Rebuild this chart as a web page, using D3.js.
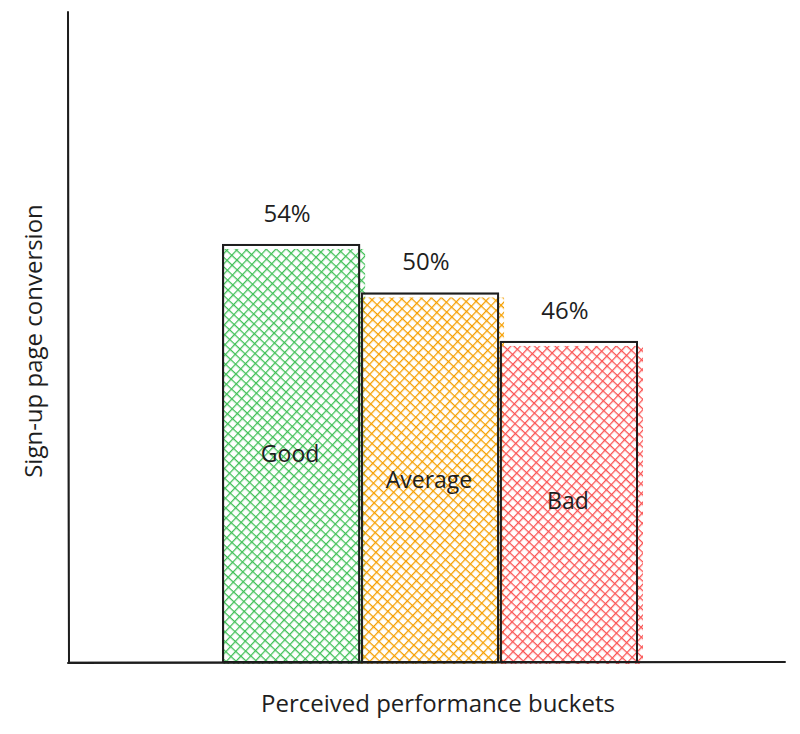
<!DOCTYPE html>
<html><head><meta charset="utf-8">
<script src="https://cdn.jsdelivr.net/npm/d3@7"></script>
<style>body{margin:0;background:#fff}</style>
</head><body>
<script>
const categories = ["Good", "Average", "Bad"];
const values = [54, 50, 46];
const valueLabels = ["54%", "50%", "46%"];
const colors = ["#40c057", "#f59f00", "#fa5252"];
const xTitle = "Perceived performance buckets";
const yTitle = "Sign-up page conversion";

const W = 800, H = 734;
const font = "'Comic Sans MS', 'Open Sans', 'DejaVu Sans', sans-serif";
const svg = d3.select("body").append("svg").attr("width", W).attr("height", H);

const x = d3.scaleBand().domain(categories).range([223, 637]).paddingInner(0.02);
const y = d3.scaleLinear().domain([19.6, 73.3]).range([662, 11]);

const defs = svg.append("defs");
colors.forEach((c, i) => {
  const s = 7;
  const p = defs.append("pattern").attr("id", "h" + i).attr("patternUnits", "userSpaceOnUse")
    .attr("width", s).attr("height", s).attr("patternTransform", "rotate(43)");
  p.append("line").attr("x1", 0).attr("y1", 0).attr("x2", 0).attr("y2", s)
    .attr("stroke", c).attr("stroke-width", 2);
  p.append("line").attr("x1", 0).attr("y1", 0).attr("x2", s).attr("y2", 0)
    .attr("stroke", c).attr("stroke-width", 2);
  p.append("line").attr("x1", 1.2).attr("y1", 0).attr("x2", 1.2).attr("y2", s)
    .attr("stroke", c).attr("stroke-width", 0.8).attr("opacity", 0.5);
  p.append("line").attr("x1", 0).attr("y1", 1.2).attr("x2", s).attr("y2", 1.2)
    .attr("stroke", c).attr("stroke-width", 0.8).attr("opacity", 0.5);
});

const g = svg.append("g");
g.selectAll("rect.fill").data(values).join("rect").attr("class", "fill")
  .attr("x", (d, i) => x(categories[i]) - 1)
  .attr("y", d => y(d) + 4)
  .attr("width", x.bandwidth() + 7)
  .attr("height", d => y.range()[0] - y(d) - 2)
  .attr("fill", (d, i) => "url(#h" + i + ")");
g.selectAll("rect.out").data(values).join("rect").attr("class", "out")
  .attr("x", (d, i) => x(categories[i]))
  .attr("y", d => y(d))
  .attr("width", x.bandwidth())
  .attr("height", d => y.range()[0] - y(d))
  .attr("fill", "none").attr("stroke", "#1e1e1e").attr("stroke-width", 2);
g.selectAll("rect.out2").data(values).join("rect").attr("class", "out2")
  .attr("x", (d, i) => x(categories[i]) + 0.8)
  .attr("y", d => y(d) + 0.6)
  .attr("width", x.bandwidth() - 1)
  .attr("height", d => y.range()[0] - y(d) - 1)
  .attr("fill", "none").attr("stroke", "#1e1e1e").attr("stroke-width", 0.8).attr("opacity", 0.6);

const ax = svg.append("g").attr("stroke", "#1e1e1e").attr("fill", "none").attr("stroke-linecap", "round");
ax.append("path").attr("d", `M68,12 L69,663`).attr("stroke-width", 2);
ax.append("path").attr("d", `M67.5,13 L68.5,662`).attr("stroke-width", 0.8);
ax.append("path").attr("d", `M68,663 L785,662`).attr("stroke-width", 2);
ax.append("path").attr("d", `M69,662 L784,661.5`).attr("stroke-width", 0.8);

svg.selectAll("text.v").data(values).join("text").attr("class", "v")
  .attr("x", (d, i) => x(categories[i]) + x.bandwidth() / 2 - 4)
  .attr("y", d => y(d) - 23)
  .attr("text-anchor", "middle").attr("font-family", font).attr("font-size", 24)
  .attr("fill", "#1e1e1e").text((d, i) => valueLabels[i]);

const catY = [462, 488, 509];
svg.selectAll("text.c").data(categories).join("text").attr("class", "c")
  .attr("x", d => x(d) + x.bandwidth() / 2 - 1)
  .attr("y", (d, i) => catY[i])
  .attr("text-anchor", "middle").attr("font-family", font).attr("font-size", 23)
  .attr("fill", "#1e1e1e").text(d => d);

svg.append("text").attr("x", 438).attr("y", 712).attr("text-anchor", "middle")
  .attr("font-family", font).attr("font-size", 24).attr("fill", "#1e1e1e").text(xTitle);
svg.append("text").attr("transform", "translate(42,341) rotate(-90)").attr("text-anchor", "middle")
  .attr("font-family", font).attr("font-size", 24).attr("fill", "#1e1e1e").text(yTitle);
</script>
</body></html>
